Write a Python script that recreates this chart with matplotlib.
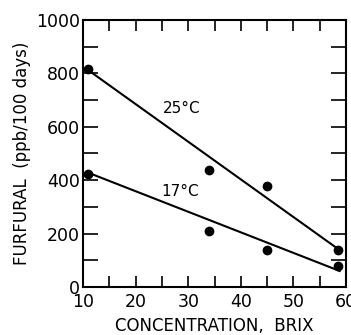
import matplotlib
matplotlib.use("Agg")
import matplotlib.pyplot as plt
from matplotlib.ticker import MultipleLocator

# measured points (concentration in Brix, furfural ppb/100 days)
brix_pts = [11, 34, 45, 58.5]
furf_25 = [815, 440, 378, 140]
furf_17 = [425, 208, 138, 78]

# fitted lines, end points
line_x = [11, 58.8]
line_25 = [812, 138]
line_17 = [428, 60]

plt.rcParams["font.family"] = ["DejaVu Sans"]

fig = plt.figure(figsize=(3.51, 3.35), dpi=100)
ax = fig.add_axes([0.2365, 0.1433, 0.7493, 0.797])

ax.plot(line_x, line_25, color="black", lw=1.5)
ax.plot(line_x, line_17, color="black", lw=1.5)
ax.plot(brix_pts, furf_25, "o", color="black", ms=6)
ax.plot(brix_pts, furf_17, "o", color="black", ms=6)

ax.text(28.8, 670, "25°C", ha="center", va="center", fontsize=11)
ax.text(28.4, 356, "17°C", ha="center", va="center", fontsize=11)

ax.set_xlim(10, 60)
ax.set_ylim(0, 1000)
ax.xaxis.set_major_locator(MultipleLocator(10))
ax.xaxis.set_minor_locator(MultipleLocator(5))
ax.yaxis.set_major_locator(MultipleLocator(200))
ax.yaxis.set_minor_locator(MultipleLocator(100))
ax.tick_params(which="both", direction="in", top=True, right=True, width=1.2,
               labelsize=12.5)
ax.tick_params(axis="x", which="both", length=8, pad=4)
ax.tick_params(axis="y", which="both", length=11, pad=2)
for s in ax.spines.values():
    s.set_linewidth(1.5)

ax.set_xlabel("CONCENTRATION,  BRIX", fontsize=12, labelpad=5)
ax.set_ylabel("FURFURAL  (ppb/100 days)", fontsize=12, labelpad=4)

fig.savefig("out.png", dpi=100)
